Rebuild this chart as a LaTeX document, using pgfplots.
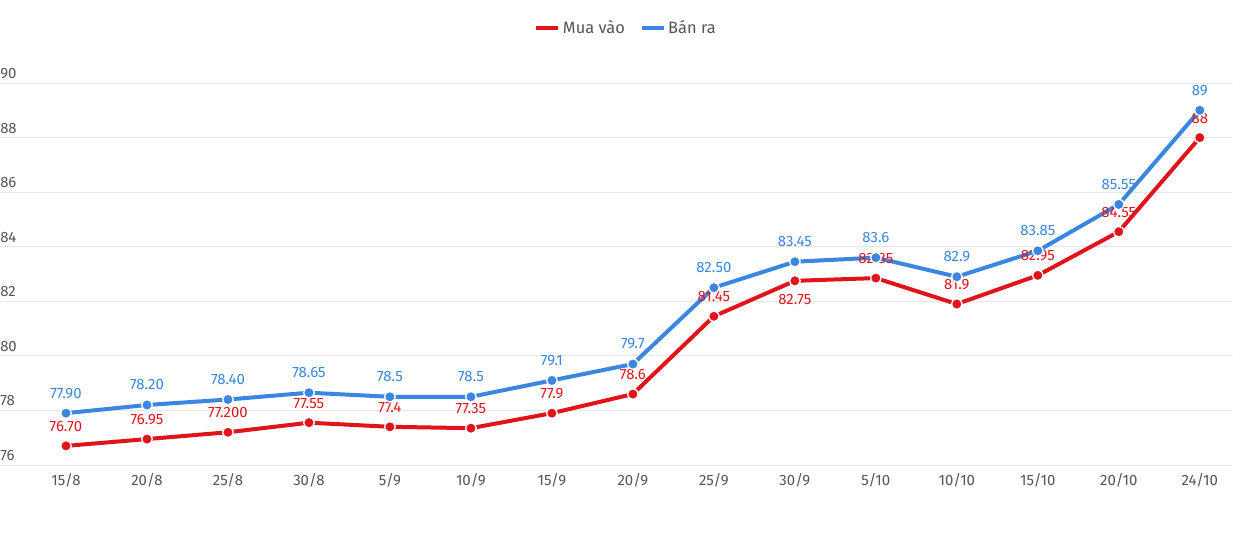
\documentclass[border=0pt]{standalone}
\usepackage{pgfplots}
\pgfplotsset{compat=1.18}
\usepackage{fontspec}
\setmainfont{Fira Sans}
\definecolor{muared}{HTML}{E0141B}
\definecolor{banblue}{HTML}{3A86E0}
\definecolor{tickgray}{HTML}{555555}
\definecolor{gridgray}{HTML}{E6E6E6}

% x = category index, lab = printed value, dy = label offset (pt)
\pgfplotstableread{
x y lab dy
0  76.70 76.70  14.5
1  76.95 76.95  14.5
2  77.20 77.200 14.5
3  77.55 77.55  14.5
4  77.40 77.4   14.5
5  77.35 77.35  14.5
6  77.90 77.9   14.5
7  78.60 78.6   14.5
8  81.45 81.45  14.5
9  82.75 82.75  -14
10 82.85 82.85  14.5
11 81.90 81.9   14.5
12 82.95 82.95  14.5
13 84.55 84.55  14.5
14 88.00 88     14.5
}\muavao
\pgfplotstableread{
x y lab dy
0  77.90 77.90 15
1  78.20 78.20 15
2  78.40 78.40 15
3  78.65 78.65 15
4  78.50 78.5  15
5  78.50 78.5  15
6  79.10 79.1  15
7  79.70 79.7  15
8  82.50 82.50 15
9  83.45 83.45 15
10 83.60 83.6  15
11 82.90 82.9  15
12 83.85 83.85 15
13 85.55 85.55 15
14 89.00 89    15
}\banra

\begin{document}
\begin{tikzpicture}[x=0.75pt,y=0.75pt]
\useasboundingbox (0,-68) rectangle (1233,465);
\begin{axis}[
    at={(0,0)}, anchor=south west,
    scale only axis,
    width=924.75pt, height=286.5pt,
    xmin=-0.815, xmax=14.41,
    ymin=76, ymax=90,
    axis line style={draw=none},
    major tick style={draw=none},
    ymajorgrids,
    grid style={gridgray, line width=0.75pt},
    ytick={76,78,...,90},
    xtick={0,...,14},
    xticklabels={15/8,20/8,25/8,30/8,5/9,10/9,15/9,20/9,25/9,30/9,5/10,10/10,15/10,20/10,24/10},
    /pgf/number format/assume math mode=true,
    ticklabel style={font=\fontsize{11.2}{13}\selectfont, text=tickgray},
    yticklabel style={anchor=south west, inner sep=0pt, xshift=0pt, yshift=3pt},
    xticklabel style={yshift=-3pt},
    clip=false,
    legend style={at={(0.508,1.144)}, anchor=center, draw=none,
        font=\fontsize{12.3}{14}\selectfont, text=tickgray,
        legend columns=2, /tikz/every even column/.append style={column sep=9pt}},
    legend image code/.code={\draw[line width=3pt] (0pt,0pt) -- (16.5pt,0pt);},
    nodes near coords,
    point meta=explicit symbolic,
    visualization depends on={\thisrow{dy} \as \labdy},
    every node near coord/.append style={anchor=center, yshift=\labdy pt,
        font=\fontsize{11.2}{13}\selectfont},
  ]
  \addplot[muared, line width=3pt, mark=*, mark size=4pt,
    mark options={fill=muared, draw=white, line width=1pt},
    nodes near coords style={text=muared}]
    table[x=x, y=y, meta=lab] {\muavao};
  \addlegendentry{Mua vào}
  \addplot[banblue, line width=3pt, mark=*, mark size=4pt,
    mark options={fill=banblue, draw=white, line width=1pt},
    nodes near coords style={text=banblue}]
    table[x=x, y=y, meta=lab] {\banra};
  \addlegendentry{Bán ra}
\end{axis}
\end{tikzpicture}
\end{document}
